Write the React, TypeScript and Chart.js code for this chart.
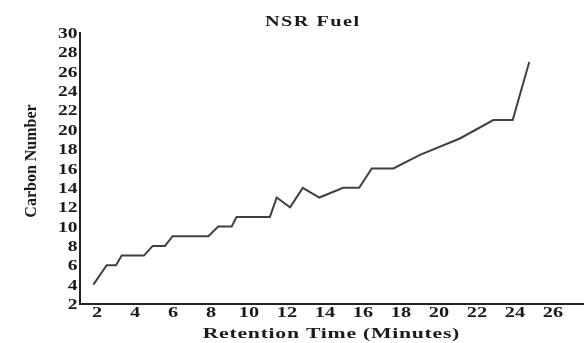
import React, { useEffect, useRef } from "react";
import { Chart, registerables } from "chart.js";

Chart.register(...registerables);

const retentionTime = [
  1.81, 2.51, 3.0, 3.3, 4.47, 4.93, 5.58, 5.98, 7.86, 8.38, 9.09, 9.35, 11.1,
  11.46, 12.16, 12.83, 13.7, 14.96, 15.8, 16.46, 17.6, 19.0, 21.1, 22.86, 23.88,
  24.75,
];
const carbonNumber = [
  4, 6, 6, 7, 7, 8, 8, 9, 9, 10, 10, 11, 11, 13, 12, 14, 13, 14, 14, 16, 16,
  17.4, 19.1, 21, 21, 27,
];
const xTickValues = [2, 4, 6, 8, 10, 12, 14, 16, 18, 20, 22, 24, 26];
const yTickValues = [2, 4, 6, 8, 10, 12, 14, 16, 18, 20, 22, 24, 26, 28, 30];
const chartTitle = "NSR Fuel";
const xTitle = "Retention Time (Minutes)";
const yTitle = "Carbon Number";

const SERIF = '"Liberation Serif", "Times New Roman", serif';

function drawStretched(
  ctx: CanvasRenderingContext2D,
  text: string,
  x: number,
  baseY: number,
  sx: number,
  font: string,
  spacing: number,
  align: CanvasTextAlign = "center"
) {
  ctx.save();
  ctx.font = font;
  (ctx as any).letterSpacing = spacing + "px";
  ctx.textAlign = align;
  ctx.textBaseline = "alphabetic";
  const shift = align === "center" ? (spacing * sx) / 2 : 0;
  ctx.translate(x + shift, baseY);
  ctx.scale(sx, 1);
  ctx.fillText(text, 0, 0);
  ctx.restore();
}

const textPlugin = {
  id: "customText",
  afterDraw(chart: any) {
    const ctx: CanvasRenderingContext2D = chart.ctx;
    const xs = chart.scales.x;
    const ys = chart.scales.y;
    ctx.save();
    ctx.fillStyle = "#1a1a1a";
    (ctx as any).letterSpacing = "0px";

    // y tick labels
    yTickValues.forEach((v) => {
      drawStretched(ctx, String(v), xs.left - 2.5, ys.getPixelForValue(v) + 5, 1.3, "bold 15px " + SERIF, 0, "right");
    });

    // x tick labels
    xTickValues.forEach((v) => {
      drawStretched(ctx, String(v), xs.getPixelForValue(v), ys.bottom + 13, 1.45, "bold 14px " + SERIF, 0);
    });

    // x title
    drawStretched(ctx, xTitle, 331, 338, 1.45, "bold 15px " + SERIF, 0.5);

    // chart title
    drawStretched(ctx, chartTitle, 312, 26, 1.45, "bold 14px " + SERIF, 1);

    // y title
    ctx.save();
    ctx.font = "bold 16px " + SERIF;
    (ctx as any).letterSpacing = "0px";
    ctx.textAlign = "center";
    ctx.textBaseline = "alphabetic";
    ctx.translate(36, 161);
    ctx.rotate(-Math.PI / 2);
    ctx.fillText(yTitle, 0, 0);
    ctx.restore();

    ctx.restore();
  },
};

export default function App() {
  const canvasRef = useRef<HTMLCanvasElement | null>(null);

  useEffect(() => {
    const canvas = canvasRef.current;
    if (!canvas) return;
    const chart = new Chart(canvas, {
      type: "line",
      data: {
        datasets: [
          {
            data: retentionTime.map((x, i) => ({ x, y: carbonNumber[i] })),
            borderColor: "#404040",
            borderWidth: 2,
            pointRadius: 0,
            tension: 0,
            fill: false,
          },
        ],
      },
      options: {
        animation: false,
        responsive: false,
        devicePixelRatio: 1,
        layout: { padding: { left: 80, top: 33, right: 3, bottom: 39 } },
        plugins: {
          legend: { display: false },
          title: { display: false },
          tooltip: { enabled: false },
        },
        scales: {
          x: {
            type: "linear",
            min: 1.105,
            max: 27.58,
            afterBuildTicks: (scale: any) => {
              scale.ticks = xTickValues.map((v) => ({ value: v }));
            },
            ticks: { display: false },
            grid: { display: false, drawTicks: false },
            border: { display: true, color: "#222", width: 2 },
          },
          y: {
            type: "linear",
            min: 2,
            max: 30,
            afterBuildTicks: (scale: any) => {
              scale.ticks = yTickValues.map((v) => ({ value: v }));
            },
            ticks: { display: false },
            grid: { display: false, drawTicks: false },
            border: { display: true, color: "#222", width: 2 },
          },
        },
      },
      plugins: [textPlugin],
    });
    return () => chart.destroy();
  }, []);

  return (
    <div style={{ position: "fixed", left: 0, top: 0, width: 586, height: 343, background: "#fff" }}>
      <canvas ref={canvasRef} width={586} height={343} style={{ display: "block" }} />
    </div>
  );
}
